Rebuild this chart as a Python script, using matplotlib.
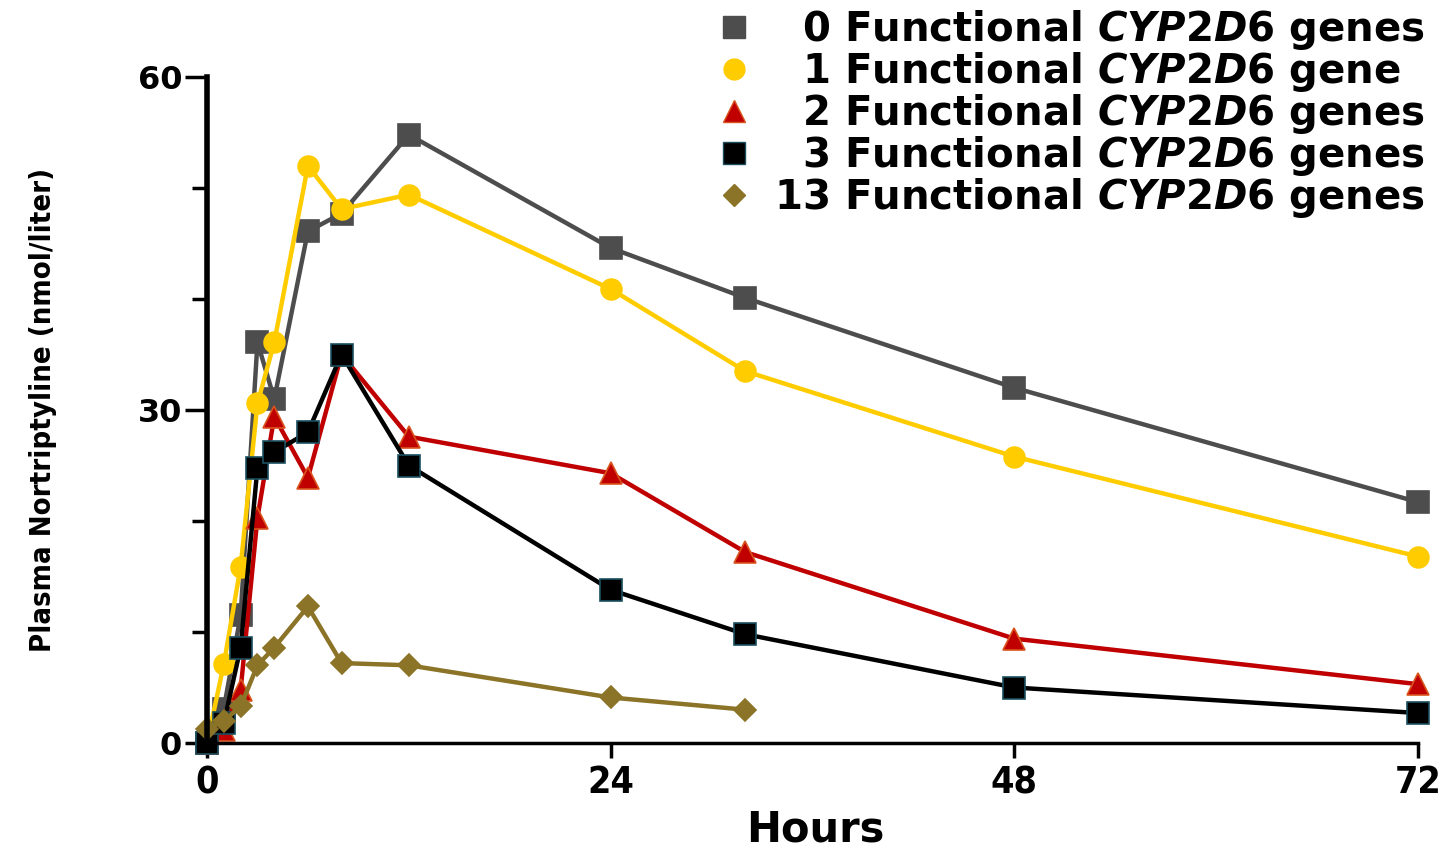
import matplotlib
matplotlib.use('Agg')
import matplotlib.pyplot as plt
from matplotlib.lines import Line2D

plt.rcParams['mathtext.fontset'] = 'custom'
plt.rcParams['mathtext.it'] = 'DejaVu Sans:italic:bold'
plt.rcParams['mathtext.rm'] = 'DejaVu Sans:bold'

# sampling times (hours) and plasma nortriptyline (nmol/liter)
hours = [0, 1, 2, 3, 4, 6, 8, 12, 24, 32, 48, 72]
genes0 = [0, 3.1, 11.5, 36.1, 31.0, 46.1, 47.7, 54.8, 44.6, 40.1, 32.0, 21.7]
genes1 = [0, 7.1, 15.9, 30.6, 36.1, 52.0, 48.1, 49.4, 40.9, 33.5, 25.8, 16.8]
genes2 = [0, 1.2, 4.8, 20.3, 29.4, 23.9, 35.0, 27.6, 24.3, 17.2, 9.4, 5.3]
genes3 = [0, 1.8, 8.6, 24.8, 26.2, 28.0, 35.0, 25.0, 13.8, 9.8, 5.0, 2.7]
hours13 = [0, 1, 2, 3, 4, 6, 8, 12, 24, 32]
genes13 = [1.3, 2.0, 3.3, 7.0, 8.6, 12.3, 7.2, 7.0, 4.1, 3.0]

labels = ['\u20070 Functional $\\mathit{CYP2D6}$ genes',
          '\u20071 Functional $\\mathit{CYP2D6}$ gene',
          '\u20072 Functional $\\mathit{CYP2D6}$ genes',
          '\u20073 Functional $\\mathit{CYP2D6}$ genes',
          '13 Functional $\\mathit{CYP2D6}$ genes']

series = [
    (hours, genes0, '#4d4d4d', '#4d4d4d', 's', 16),
    (hours, genes1, '#ffcc00', '#ffcc00', 'o', 15),
    (hours, genes2, '#c00000', '#d9541e', '^', 16),
    (hours, genes3, '#000000', '#1b4f5f', 's', 16),
    (hours13, genes13, '#8b7327', '#8b7327', 'D', 11),
]

fig = plt.figure(figsize=(14.48, 8.48), dpi=100)
ax = fig.add_axes([207 / 1448, 105 / 848, 1211 / 1448, 666 / 848])

handles = []
for (x, y, c, ec, m, ms), lab in zip(series, labels):
    ax.plot(x, y, color=c, lw=3.2, marker=m, markersize=ms,
            markerfacecolor=c, markeredgecolor=ec, markeredgewidth=1.2,
            clip_on=False)
    handles.append(Line2D([], [], linestyle='none', marker=m, markersize=ms,
                          markerfacecolor=c, markeredgecolor=ec))

ax.set_xlim(0, 72)
ax.set_ylim(0, 60)
ax.set_xticks([0, 24, 48, 72])
ax.set_yticks([0, 30, 60])
ax.set_yticks([10, 20, 40, 50], minor=True)

for s in ['top', 'right']:
    ax.spines[s].set_visible(False)
ax.spines['left'].set_linewidth(4)
ax.spines['bottom'].set_linewidth(2.5)

ax.tick_params(axis='y', which='major', length=16, width=2.5, pad=2)
ax.tick_params(axis='y', which='minor', length=11, width=2.5)
ax.tick_params(axis='x', which='major', length=11, width=2.5, pad=5)

for t in ax.get_yticklabels():
    t.set_fontfamily('DejaVu Sans')
    t.set_fontweight('bold')
    t.set_fontsize(23)
for t in ax.get_xticklabels():
    t.set_fontfamily('DejaVu Sans')
    t.set_fontstretch('condensed')
    t.set_fontweight('bold')
    t.set_fontsize(27)

fig.text(43 / 1448, 1 - 410 / 848, 'Plasma Nortriptyline (nmol/liter)',
         rotation=90, ha='center', va='center', fontsize=21,
         fontweight='bold', fontstretch='condensed', family='DejaVu Sans')
fig.text(815 / 1448, 0.008, 'Hours', ha='center', va='baseline',
         fontsize=30, fontweight='bold', family='DejaVu Sans')

fig.legend(handles, labels, loc='upper left',
           bbox_to_anchor=(716 / 1448, 1 - 8 / 848),
           frameon=False, borderpad=0, borderaxespad=0,
           handlelength=0.9, handletextpad=0.55, labelspacing=-0.05,
           prop={'family': 'DejaVu Sans', 'weight': 'bold', 'size': 29})

fig.savefig('out.png', dpi=100)
